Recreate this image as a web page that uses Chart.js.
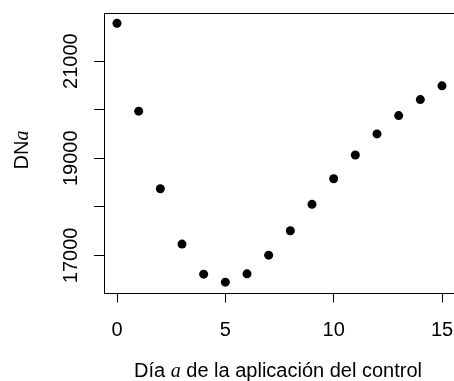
<!DOCTYPE html>
<html>
<head>
<meta charset="utf-8">
<script src="https://cdn.jsdelivr.net/npm/chart.js@4"></script>
<style>
html, body { margin: 0; padding: 0; background: #fff; overflow: hidden; }
</style>
</head>
<body>
<canvas id="myChart" width="460" height="381"></canvas>
<script>
// data
const days = [0, 1, 2, 3, 4, 5, 6, 7, 8, 9, 10, 11, 12, 13, 14, 15];
const dnValues = [21777, 19969, 18373, 17233, 16614, 16450, 16621, 17006,
    17507, 18052, 18579, 19068, 19501, 19878, 20208, 20491];
const xTicks = [0, 5, 10, 15];
const yTicks = [17000, 18000, 19000, 20000, 21000];
const yTickLabels = ['17000', '', '19000', '', '21000'];

// R style axis limits (4% extension)
const xPad = (15 - 0) * 0.04;
const yMin = Math.min(...dnValues);
const yMax = Math.max(...dnValues);
const yPad = (yMax - yMin) * 0.04;

const sans = 'Liberation Sans, Arial, sans-serif';
const serif = 'Liberation Serif, Times New Roman, serif';
const fontSize = 20;

function drawParts(c, parts, x, y) {
    let total = 0;
    for (let p of parts) {
        c.font = p.font;
        total += c.measureText(p.text).width;
    }
    let pos = x - total / 2;
    for (let p of parts) {
        c.font = p.font;
        c.fillText(p.text, pos, y);
        pos += c.measureText(p.text).width;
    }
}

function noPadding(s) {
    s.paddingLeft = 0;
    s.paddingRight = 0;
    s.paddingTop = 0;
    s.paddingBottom = 0;
}

const boxAndTitles = {
    id: 'boxAndTitles',
    afterDraw(chart) {
        const c = chart.ctx;
        const a = chart.chartArea;
        c.save();
        c.strokeStyle = '#000';
        c.lineWidth = 1;
        c.strokeRect(Math.round(a.left) + 0.5, Math.round(a.top) + 0.5,
            Math.round(a.right - a.left), Math.round(a.bottom - a.top));
        c.fillStyle = '#000';
        c.textBaseline = 'alphabetic';
        c.textAlign = 'left';
        // x title
        drawParts(c, [
            { text: 'Día ', font: fontSize + 'px ' + sans },
            { text: 'a', font: 'italic ' + fontSize + 'px ' + serif },
            { text: ' de la aplicación del control', font: fontSize + 'px ' + sans }
        ], 278, 377);
        // y title
        c.translate(28, 150);
        c.rotate(-Math.PI / 2);
        drawParts(c, [
            { text: 'DN', font: fontSize + 'px ' + sans },
            { text: 'a', font: 'italic ' + fontSize + 'px ' + serif }
        ], 0, 0);
        c.restore();
    }
};

const ctx = document.getElementById('myChart').getContext('2d');
const myChart = new Chart(ctx, { //eslint-disable-line
    type: 'scatter',
    data: {
        datasets: [{
            data: days.map((d, i) => ({ x: d, y: dnValues[i] })),
            backgroundColor: '#000',
            borderWidth: 0,
            pointRadius: 4.5,
            pointHoverRadius: 4.5
        }]
    },
    options: {
        responsive: false,
        animation: false,
        layout: { padding: { top: 13, right: 5, left: 0, bottom: 0 } },
        plugins: {
            legend: { display: false },
            tooltip: { enabled: false }
        },
        scales: {
            x: {
                type: 'linear',
                min: 0 - xPad,
                max: 15 + xPad,
                afterBuildTicks: (s) => { s.ticks = xTicks.map(v => ({ value: v })); },
                afterFit: (s) => { s.height = 88.5; noPadding(s); },
                grid: { drawOnChartArea: false, drawTicks: true, tickLength: 10, color: '#000' },
                border: { display: false },
                ticks: {
                    font: { family: sans, size: fontSize },
                    color: '#000',
                    padding: 16,
                    minRotation: 0,
                    maxRotation: 0,
                    autoSkip: false
                }
            },
            y: {
                min: yMin - yPad,
                max: yMax + yPad,
                afterBuildTicks: (s) => { s.ticks = yTicks.map(v => ({ value: v })); },
                afterFit: (s) => { s.width = 104; noPadding(s); },
                grid: { drawOnChartArea: false, drawTicks: true, tickLength: 10, color: '#000' },
                border: { display: false },
                ticks: {
                    font: { family: sans, size: fontSize },
                    color: '#000',
                    padding: -5,
                    minRotation: 90,
                    maxRotation: 90,
                    crossAlign: 'center',
                    autoSkip: false,
                    callback: (v) => yTickLabels[yTicks.indexOf(v)]
                }
            }
        }
    },
    plugins: [boxAndTitles]
});
</script>
</body>
</html>
